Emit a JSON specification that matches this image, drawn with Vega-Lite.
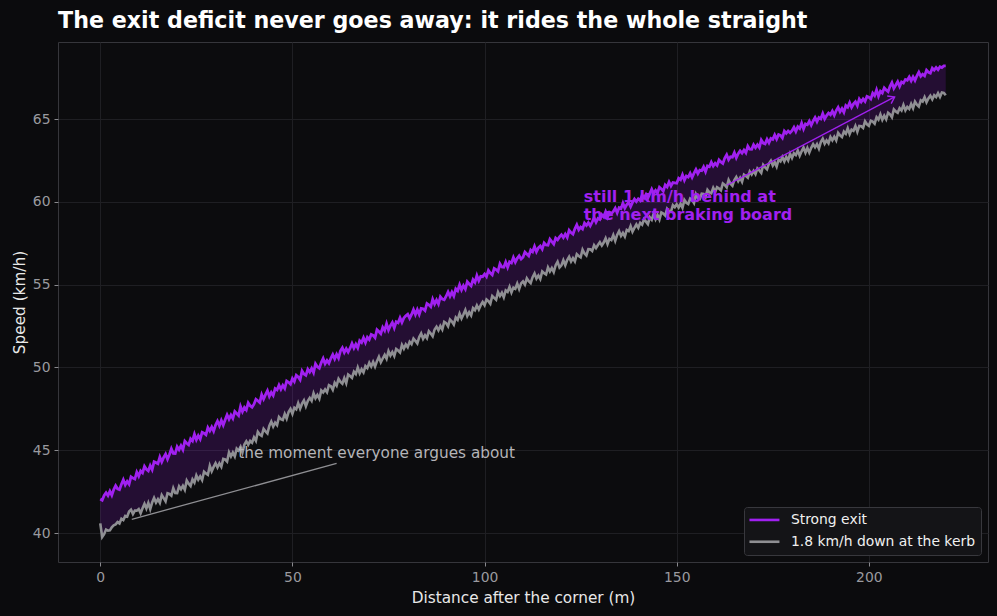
{
  "$schema": "https://vega.github.io/schema/vega-lite/v6.json",
  "autosize": {"type": "none"},
  "padding": {"left": 58, "top": 42, "right": 9, "bottom": 54},
  "width": 930,
  "height": 520,
  "background": "#0b0b0d",
  "title": {
    "text": "The exit deficit never goes away: it rides the whole straight",
    "anchor": "start",
    "frame": "group",
    "font": "DejaVu Sans",
    "fontSize": 22.2,
    "fontWeight": "bold",
    "color": "#ffffff",
    "offset": 10
  },
  "config": {
    "view": {"stroke": "#36363b", "strokeWidth": 1, "fill": "#0c0c0e"},
    "axis": {
      "domain": false,
      "grid": true,
      "gridColor": "#1f1f23",
      "gridWidth": 1,
      "tickColor": "#8a8a8f",
      "tickSize": 4,
      "labelColor": "#9a9a9f",
      "labelFont": "DejaVu Sans",
      "labelFontSize": 13.9,
      "labelPadding": 4,
      "titleColor": "#e8e8e8",
      "titleFont": "DejaVu Sans",
      "titleFontSize": 15.3,
      "titleFontWeight": "normal"
    },
    "legend": {
      "orient": "bottom-right",
      "offset": 7,
      "fillColor": "#141417",
      "strokeColor": "#38383d",
      "cornerRadius": 3,
      "padding": 6,
      "labelColor": "#f0f0f0",
      "labelFont": "DejaVu Sans",
      "labelFontSize": 13.9,
      "labelLimit": 0,
      "symbolType": "M-3,0L3,0",
      "symbolSize": 100,
      "symbolStrokeWidth": 2.6,
      "symbolOffset": 7.5,
      "labelOffset": 19.5,
      "rowPadding": 6.8
    }
  },
  "datasets": {
    "laps": [
      {"d": 0, "s": 42.05, "w": 40.58}, {"d": 0.5, "s": 41.98, "w": 39.76}, {"d": 1, "s": 42.27, "w": 39.93}, {"d": 1.5, "s": 42.43, "w": 40.21},
      {"d": 2, "s": 42.26, "w": 40.14}, {"d": 2.5, "s": 42.53, "w": 40.16}, {"d": 3, "s": 42.28, "w": 40.34}, {"d": 3.5, "s": 42.62, "w": 40.47},
      {"d": 4, "s": 42.86, "w": 40.52}, {"d": 4.5, "s": 42.67, "w": 40.66}, {"d": 5, "s": 42.62, "w": 40.58}, {"d": 5.5, "s": 42.94, "w": 40.86},
      {"d": 6, "s": 43.22, "w": 40.78}, {"d": 6.5, "s": 42.91, "w": 41.03}, {"d": 7, "s": 43.12, "w": 40.99}, {"d": 7.5, "s": 42.95, "w": 41.30},
      {"d": 8, "s": 43.40, "w": 41.41}, {"d": 8.5, "s": 43.32, "w": 41.15}, {"d": 9, "s": 43.26, "w": 41.36}, {"d": 9.5, "s": 43.67, "w": 41.35},
      {"d": 10, "s": 43.43, "w": 41.45}, {"d": 10.5, "s": 43.75, "w": 41.19}, {"d": 11, "s": 43.63, "w": 41.50}, {"d": 11.5, "s": 44.03, "w": 41.76},
      {"d": 12, "s": 43.85, "w": 41.48}, {"d": 12.5, "s": 43.75, "w": 41.82}, {"d": 13, "s": 44.07, "w": 41.44}, {"d": 13.5, "s": 43.83, "w": 41.84},
      {"d": 14, "s": 44.30, "w": 42.12}, {"d": 14.5, "s": 44.25, "w": 41.84}, {"d": 15, "s": 44.19, "w": 42.04}, {"d": 15.5, "s": 44.59, "w": 41.82},
      {"d": 16, "s": 44.30, "w": 42.29}, {"d": 16.5, "s": 44.57, "w": 42.11}, {"d": 17, "s": 44.77, "w": 41.91}, {"d": 17.5, "s": 44.46, "w": 42.40},
      {"d": 18, "s": 44.74, "w": 42.36}, {"d": 18.5, "s": 45.09, "w": 42.26}, {"d": 19, "s": 44.81, "w": 42.71}, {"d": 19.5, "s": 44.80, "w": 42.42},
      {"d": 20, "s": 45.21, "w": 42.41}, {"d": 20.5, "s": 45.03, "w": 42.82}, {"d": 21, "s": 45.27, "w": 42.64}, {"d": 21.5, "s": 45.04, "w": 42.85},
      {"d": 22, "s": 45.55, "w": 42.61}, {"d": 22.5, "s": 45.42, "w": 43.17}, {"d": 23, "s": 45.32, "w": 42.98}, {"d": 23.5, "s": 45.69, "w": 42.84},
      {"d": 24, "s": 45.56, "w": 43.24}, {"d": 24.5, "s": 45.97, "w": 43.05}, {"d": 25, "s": 45.63, "w": 43.48}, {"d": 25.5, "s": 45.88, "w": 43.22},
      {"d": 26, "s": 45.67, "w": 43.42}, {"d": 26.5, "s": 46.09, "w": 43.20}, {"d": 27, "s": 46.03, "w": 43.70}, {"d": 27.5, "s": 45.93, "w": 43.60},
      {"d": 28, "s": 46.37, "w": 43.52}, {"d": 28.5, "s": 46.17, "w": 44.06}, {"d": 29, "s": 46.40, "w": 43.73}, {"d": 29.5, "s": 46.15, "w": 43.99},
      {"d": 30, "s": 46.52, "w": 44.21}, {"d": 30.5, "s": 46.76, "w": 43.96}, {"d": 31, "s": 46.48, "w": 44.21}, {"d": 31.5, "s": 46.80, "w": 44.00},
      {"d": 32, "s": 46.52, "w": 44.48}, {"d": 32.5, "s": 46.84, "w": 44.44}, {"d": 33, "s": 47.14, "w": 44.32}, {"d": 33.5, "s": 46.88, "w": 44.87},
      {"d": 34, "s": 47.12, "w": 44.62}, {"d": 34.5, "s": 46.92, "w": 44.86}, {"d": 35, "s": 47.34, "w": 44.62}, {"d": 35.5, "s": 47.22, "w": 45.10},
      {"d": 36, "s": 47.09, "w": 44.98}, {"d": 36.5, "s": 47.64, "w": 45.21}, {"d": 37, "s": 47.33, "w": 44.87}, {"d": 37.5, "s": 47.58, "w": 45.34},
      {"d": 38, "s": 47.43, "w": 45.54}, {"d": 38.5, "s": 47.86, "w": 45.33}, {"d": 39, "s": 47.69, "w": 45.56}, {"d": 39.5, "s": 47.60, "w": 45.45},
      {"d": 40, "s": 47.78, "w": 45.78}, {"d": 40.5, "s": 48.08, "w": 45.57}, {"d": 41, "s": 47.99, "w": 46.11}, {"d": 41.5, "s": 47.88, "w": 45.95},
      {"d": 42, "s": 48.36, "w": 45.87}, {"d": 42.5, "s": 48.09, "w": 46.29}, {"d": 43, "s": 48.36, "w": 46.14}, {"d": 43.5, "s": 48.60, "w": 46.02},
      {"d": 44, "s": 48.25, "w": 46.48}, {"d": 44.5, "s": 48.49, "w": 46.73}, {"d": 45, "s": 48.31, "w": 46.43}, {"d": 45.5, "s": 48.72, "w": 46.66},
      {"d": 46, "s": 48.64, "w": 46.52}, {"d": 46.5, "s": 48.93, "w": 47.01}, {"d": 47, "s": 48.68, "w": 46.88}, {"d": 47.5, "s": 48.92, "w": 46.83},
      {"d": 48, "s": 48.73, "w": 47.19}, {"d": 48.5, "s": 49.18, "w": 46.91}, {"d": 49, "s": 49.10, "w": 47.30}, {"d": 49.5, "s": 48.99, "w": 47.49},
      {"d": 50, "s": 49.33, "w": 47.20}, {"d": 50.5, "s": 49.15, "w": 47.57}, {"d": 51, "s": 49.53, "w": 47.47}, {"d": 51.5, "s": 49.43, "w": 47.84},
      {"d": 52, "s": 49.26, "w": 47.51}, {"d": 52.5, "s": 49.79, "w": 47.81}, {"d": 53, "s": 49.60, "w": 48.01}, {"d": 53.5, "s": 49.52, "w": 47.65},
      {"d": 54, "s": 49.89, "w": 47.97}, {"d": 54.5, "s": 49.72, "w": 48.16}, {"d": 55, "s": 49.94, "w": 47.98}, {"d": 55.5, "s": 49.69, "w": 48.44},
      {"d": 56, "s": 50.22, "w": 48.14}, {"d": 56.5, "s": 50.04, "w": 48.34}, {"d": 57, "s": 49.95, "w": 48.11}, {"d": 57.5, "s": 50.29, "w": 48.61},
      {"d": 58, "s": 50.54, "w": 48.49}, {"d": 58.5, "s": 50.22, "w": 48.67}, {"d": 59, "s": 50.42, "w": 48.50}, {"d": 59.5, "s": 50.25, "w": 48.93},
      {"d": 60, "s": 50.55, "w": 48.87}, {"d": 60.5, "s": 50.78, "w": 48.65}, {"d": 61, "s": 50.51, "w": 49.07}, {"d": 61.5, "s": 50.79, "w": 48.90},
      {"d": 62, "s": 50.56, "w": 49.31}, {"d": 62.5, "s": 51.00, "w": 49.13}, {"d": 63, "s": 51.18, "w": 49.02}, {"d": 63.5, "s": 50.90, "w": 49.36},
      {"d": 64, "s": 51.13, "w": 49.05}, {"d": 64.5, "s": 50.93, "w": 49.57}, {"d": 65, "s": 51.16, "w": 49.48}, {"d": 65.5, "s": 51.45, "w": 49.37},
      {"d": 66, "s": 51.17, "w": 49.74}, {"d": 66.5, "s": 51.41, "w": 49.60}, {"d": 67, "s": 51.18, "w": 49.99}, {"d": 67.5, "s": 51.61, "w": 49.65},
      {"d": 68, "s": 51.50, "w": 49.89}, {"d": 68.5, "s": 51.79, "w": 49.70}, {"d": 69, "s": 51.50, "w": 50.08}, {"d": 69.5, "s": 51.82, "w": 49.96},
      {"d": 70, "s": 51.68, "w": 50.28}, {"d": 70.5, "s": 51.99, "w": 50.06}, {"d": 71, "s": 51.93, "w": 50.33}, {"d": 71.5, "s": 51.79, "w": 50.05},
      {"d": 72, "s": 52.28, "w": 50.38}, {"d": 72.5, "s": 52.17, "w": 50.64}, {"d": 73, "s": 52.04, "w": 50.31}, {"d": 73.5, "s": 52.42, "w": 50.54},
      {"d": 74, "s": 52.23, "w": 50.76}, {"d": 74.5, "s": 52.64, "w": 50.52}, {"d": 75, "s": 52.26, "w": 50.99}, {"d": 75.5, "s": 52.52, "w": 50.72},
      {"d": 76, "s": 52.71, "w": 50.93}, {"d": 76.5, "s": 52.39, "w": 50.69}, {"d": 77, "s": 52.76, "w": 51.11}, {"d": 77.5, "s": 52.70, "w": 51.02},
      {"d": 78, "s": 53.00, "w": 50.90}, {"d": 78.5, "s": 52.72, "w": 51.36}, {"d": 79, "s": 52.99, "w": 51.13}, {"d": 79.5, "s": 53.12, "w": 51.39},
      {"d": 80, "s": 53.21, "w": 51.22}, {"d": 80.5, "s": 52.97, "w": 51.55}, {"d": 81, "s": 53.20, "w": 51.41}, {"d": 81.5, "s": 53.49, "w": 51.74},
      {"d": 82, "s": 53.19, "w": 51.60}, {"d": 82.5, "s": 53.49, "w": 51.45}, {"d": 83, "s": 53.20, "w": 51.83}, {"d": 83.5, "s": 53.56, "w": 52.05},
      {"d": 84, "s": 53.54, "w": 51.73}, {"d": 84.5, "s": 53.43, "w": 51.94}, {"d": 85, "s": 53.86, "w": 51.77}, {"d": 85.5, "s": 53.78, "w": 52.19},
      {"d": 86, "s": 53.66, "w": 52.05}, {"d": 86.5, "s": 54.12, "w": 51.88}, {"d": 87, "s": 53.83, "w": 52.29}, {"d": 87.5, "s": 54.07, "w": 52.46},
      {"d": 88, "s": 53.83, "w": 52.24}, {"d": 88.5, "s": 54.27, "w": 52.50}, {"d": 89, "s": 54.13, "w": 52.29}, {"d": 89.5, "s": 54.09, "w": 52.75},
      {"d": 90, "s": 54.30, "w": 52.67}, {"d": 90.5, "s": 54.56, "w": 52.48}, {"d": 91, "s": 54.29, "w": 52.89}, {"d": 91.5, "s": 54.55, "w": 52.77},
      {"d": 92, "s": 54.31, "w": 52.59}, {"d": 92.5, "s": 54.75, "w": 53.02}, {"d": 93, "s": 54.63, "w": 52.88}, {"d": 93.5, "s": 54.99, "w": 53.25},
      {"d": 94, "s": 54.68, "w": 52.95}, {"d": 94.5, "s": 54.94, "w": 53.19}, {"d": 95, "s": 54.73, "w": 53.47}, {"d": 95.5, "s": 55.18, "w": 53.10},
      {"d": 96, "s": 55.04, "w": 53.33}, {"d": 96.5, "s": 54.92, "w": 53.14}, {"d": 97, "s": 55.30, "w": 53.58}, {"d": 97.5, "s": 55.14, "w": 53.46},
      {"d": 98, "s": 55.55, "w": 53.74}, {"d": 98.5, "s": 55.24, "w": 53.50}, {"d": 99, "s": 55.50, "w": 53.76}, {"d": 99.5, "s": 55.48, "w": 53.95},
      {"d": 100, "s": 55.64, "w": 53.76}, {"d": 100.5, "s": 55.48, "w": 54.10}, {"d": 101, "s": 55.86, "w": 54.00}, {"d": 101.5, "s": 55.70, "w": 53.84},
      {"d": 102, "s": 55.59, "w": 54.31}, {"d": 102.5, "s": 55.98, "w": 54.20}, {"d": 103, "s": 55.91, "w": 54.09}, {"d": 103.5, "s": 55.80, "w": 54.55},
      {"d": 104, "s": 56.26, "w": 54.31}, {"d": 104.5, "s": 56.07, "w": 54.51}, {"d": 105, "s": 56.05, "w": 54.23}, {"d": 105.5, "s": 56.36, "w": 54.65},
      {"d": 106, "s": 56.04, "w": 54.56}, {"d": 106.5, "s": 56.38, "w": 54.87}, {"d": 107, "s": 56.31, "w": 54.53}, {"d": 107.5, "s": 56.64, "w": 54.82},
      {"d": 108, "s": 56.36, "w": 54.75}, {"d": 108.5, "s": 56.59, "w": 55.06}, {"d": 109, "s": 56.74, "w": 54.73}, {"d": 109.5, "s": 56.55, "w": 55.07},
      {"d": 110, "s": 56.66, "w": 55.19}, {"d": 110.5, "s": 56.97, "w": 55.00}, {"d": 111, "s": 56.85, "w": 55.38}, {"d": 111.5, "s": 56.73, "w": 55.21},
      {"d": 112, "s": 57.09, "w": 55.09}, {"d": 112.5, "s": 56.98, "w": 55.45}, {"d": 113, "s": 57.31, "w": 55.67}, {"d": 113.5, "s": 56.99, "w": 55.36},
      {"d": 114, "s": 57.22, "w": 55.55}, {"d": 114.5, "s": 57.33, "w": 55.34}, {"d": 115, "s": 57.14, "w": 55.80}, {"d": 115.5, "s": 57.52, "w": 55.69},
      {"d": 116, "s": 57.40, "w": 55.61}, {"d": 116.5, "s": 57.38, "w": 56.04}, {"d": 117, "s": 57.74, "w": 55.80}, {"d": 117.5, "s": 57.59, "w": 56.00},
      {"d": 118, "s": 57.45, "w": 55.76}, {"d": 118.5, "s": 57.81, "w": 56.17}, {"d": 119, "s": 57.70, "w": 56.38}, {"d": 119.5, "s": 57.88, "w": 56.03},
      {"d": 120, "s": 58.01, "w": 56.16}, {"d": 120.5, "s": 57.84, "w": 56.47}, {"d": 121, "s": 58.05, "w": 56.17}, {"d": 121.5, "s": 57.85, "w": 56.48},
      {"d": 122, "s": 58.28, "w": 56.68}, {"d": 122.5, "s": 58.14, "w": 56.39}, {"d": 123, "s": 58.05, "w": 56.60}, {"d": 123.5, "s": 58.37, "w": 56.40},
      {"d": 124, "s": 58.61, "w": 56.84}, {"d": 124.5, "s": 58.31, "w": 56.73}, {"d": 125, "s": 58.47, "w": 56.65}, {"d": 125.5, "s": 58.36, "w": 57.11},
      {"d": 126, "s": 58.71, "w": 56.88}, {"d": 126.5, "s": 58.57, "w": 56.76}, {"d": 127, "s": 58.74, "w": 57.14}, {"d": 127.5, "s": 58.55, "w": 57.13},
      {"d": 128, "s": 58.78, "w": 57.03}, {"d": 128.5, "s": 59.03, "w": 57.38}, {"d": 129, "s": 58.77, "w": 57.20}, {"d": 129.5, "s": 59.00, "w": 57.39},
      {"d": 130, "s": 58.93, "w": 57.56}, {"d": 130.5, "s": 59.22, "w": 57.36}, {"d": 131, "s": 59.09, "w": 57.54}, {"d": 131.5, "s": 59.40, "w": 57.80},
      {"d": 132, "s": 59.08, "w": 57.45}, {"d": 132.5, "s": 59.36, "w": 57.76}, {"d": 133, "s": 59.29, "w": 57.69}, {"d": 133.5, "s": 59.42, "w": 57.99},
      {"d": 134, "s": 59.62, "w": 57.64}, {"d": 134.5, "s": 59.33, "w": 58.00}, {"d": 135, "s": 59.65, "w": 58.23}, {"d": 135.5, "s": 59.59, "w": 57.94},
      {"d": 136, "s": 59.92, "w": 58.12}, {"d": 136.5, "s": 59.62, "w": 57.90}, {"d": 137, "s": 59.83, "w": 58.30}, {"d": 137.5, "s": 59.96, "w": 58.23},
      {"d": 138, "s": 59.71, "w": 58.54}, {"d": 138.5, "s": 59.97, "w": 58.20}, {"d": 139, "s": 60.17, "w": 58.42}, {"d": 139.5, "s": 60.01, "w": 58.63},
      {"d": 140, "s": 60.18, "w": 58.43}, {"d": 140.5, "s": 60.08, "w": 58.73}, {"d": 141, "s": 60.41, "w": 58.62}, {"d": 141.5, "s": 60.24, "w": 58.94},
      {"d": 142, "s": 60.45, "w": 58.80}, {"d": 142.5, "s": 60.23, "w": 58.65}, {"d": 143, "s": 60.49, "w": 59.06}, {"d": 143.5, "s": 60.76, "w": 58.91},
      {"d": 144, "s": 60.50, "w": 59.27}, {"d": 144.5, "s": 60.69, "w": 58.94}, {"d": 145, "s": 60.55, "w": 59.20}, {"d": 145.5, "s": 60.88, "w": 58.93},
      {"d": 146, "s": 60.78, "w": 59.36}, {"d": 146.5, "s": 60.64, "w": 59.29}, {"d": 147, "s": 61.02, "w": 59.17}, {"d": 147.5, "s": 60.90, "w": 59.57},
      {"d": 148, "s": 61.20, "w": 59.42}, {"d": 148.5, "s": 60.96, "w": 59.41}, {"d": 149, "s": 61.16, "w": 59.79}, {"d": 149.5, "s": 61.14, "w": 59.67},
      {"d": 150, "s": 61.12, "w": 59.85}, {"d": 150.5, "s": 61.42, "w": 59.65}, {"d": 151, "s": 61.33, "w": 59.88}, {"d": 151.5, "s": 61.63, "w": 59.63},
      {"d": 152, "s": 61.30, "w": 60.11}, {"d": 152.5, "s": 61.56, "w": 59.94}, {"d": 153, "s": 61.49, "w": 59.87}, {"d": 153.5, "s": 61.72, "w": 60.20},
      {"d": 154, "s": 61.47, "w": 60.12}, {"d": 154.5, "s": 61.73, "w": 59.93}, {"d": 155, "s": 61.95, "w": 60.46}, {"d": 155.5, "s": 61.70, "w": 60.23},
      {"d": 156, "s": 61.91, "w": 60.17}, {"d": 156.5, "s": 61.88, "w": 60.49}, {"d": 157, "s": 62.11, "w": 60.47}, {"d": 157.5, "s": 61.82, "w": 60.30},
      {"d": 158, "s": 62.17, "w": 60.72}, {"d": 158.5, "s": 62.12, "w": 60.57}, {"d": 159, "s": 62.40, "w": 60.52}, {"d": 159.5, "s": 62.16, "w": 60.84},
      {"d": 160, "s": 62.33, "w": 60.60}, {"d": 160.5, "s": 62.20, "w": 60.88}, {"d": 161, "s": 62.53, "w": 60.80}, {"d": 161.5, "s": 62.41, "w": 60.69},
      {"d": 162, "s": 62.32, "w": 61.11}, {"d": 162.5, "s": 62.64, "w": 61.02}, {"d": 163, "s": 62.84, "w": 60.87}, {"d": 163.5, "s": 62.54, "w": 61.32},
      {"d": 164, "s": 62.72, "w": 61.09}, {"d": 164.5, "s": 62.70, "w": 60.97}, {"d": 165, "s": 62.97, "w": 61.32}, {"d": 165.5, "s": 62.65, "w": 61.50},
      {"d": 166, "s": 62.90, "w": 61.25}, {"d": 166.5, "s": 63.08, "w": 61.45}, {"d": 167, "s": 62.94, "w": 61.21}, {"d": 167.5, "s": 63.13, "w": 61.64},
      {"d": 168, "s": 62.96, "w": 61.56}, {"d": 168.5, "s": 63.36, "w": 61.46}, {"d": 169, "s": 63.18, "w": 61.83}, {"d": 169.5, "s": 63.17, "w": 61.65},
      {"d": 170, "s": 63.45, "w": 61.87}, {"d": 170.5, "s": 63.27, "w": 61.67}, {"d": 171, "s": 63.45, "w": 62.02}, {"d": 171.5, "s": 63.28, "w": 61.90},
      {"d": 172, "s": 63.73, "w": 61.75}, {"d": 172.5, "s": 63.55, "w": 62.23}, {"d": 173, "s": 63.50, "w": 62.08}, {"d": 173.5, "s": 63.78, "w": 61.96},
      {"d": 174, "s": 63.56, "w": 62.31}, {"d": 174.5, "s": 63.83, "w": 62.48}, {"d": 175, "s": 63.77, "w": 62.19}, {"d": 175.5, "s": 64.04, "w": 62.39},
      {"d": 176, "s": 63.79, "w": 62.12}, {"d": 176.5, "s": 64.06, "w": 62.54}, {"d": 177, "s": 64.01, "w": 62.44}, {"d": 177.5, "s": 63.86, "w": 62.71},
      {"d": 178, "s": 64.27, "w": 62.44}, {"d": 178.5, "s": 64.14, "w": 62.71}, {"d": 179, "s": 64.28, "w": 62.50}, {"d": 179.5, "s": 64.17, "w": 62.90},
      {"d": 180, "s": 64.30, "w": 62.65}, {"d": 180.5, "s": 64.50, "w": 62.93}, {"d": 181, "s": 64.25, "w": 62.82}, {"d": 181.5, "s": 64.53, "w": 63.10},
      {"d": 182, "s": 64.42, "w": 62.78}, {"d": 182.5, "s": 64.75, "w": 63.05}, {"d": 183, "s": 64.40, "w": 63.28}, {"d": 183.5, "s": 64.70, "w": 62.97},
      {"d": 184, "s": 64.65, "w": 63.25}, {"d": 184.5, "s": 64.87, "w": 62.97}, {"d": 185, "s": 64.63, "w": 63.26}, {"d": 185.5, "s": 64.88, "w": 63.48},
      {"d": 186, "s": 65.09, "w": 63.29}, {"d": 186.5, "s": 64.84, "w": 63.48}, {"d": 187, "s": 65.09, "w": 63.21}, {"d": 187.5, "s": 65.01, "w": 63.61},
      {"d": 188, "s": 65.33, "w": 63.81}, {"d": 188.5, "s": 65.01, "w": 63.51}, {"d": 189, "s": 65.21, "w": 63.71}, {"d": 189.5, "s": 65.36, "w": 63.54},
      {"d": 190, "s": 65.26, "w": 63.91}, {"d": 190.5, "s": 65.48, "w": 63.71}, {"d": 191, "s": 65.23, "w": 63.93}, {"d": 191.5, "s": 65.51, "w": 63.71},
      {"d": 192, "s": 65.71, "w": 64.16}, {"d": 192.5, "s": 65.44, "w": 64.01}, {"d": 193, "s": 65.63, "w": 63.91}, {"d": 193.5, "s": 65.41, "w": 64.24},
      {"d": 194, "s": 65.81, "w": 64.11}, {"d": 194.5, "s": 65.71, "w": 64.44}, {"d": 195, "s": 65.99, "w": 64.09}, {"d": 195.5, "s": 65.71, "w": 64.36},
      {"d": 196, "s": 65.91, "w": 64.29}, {"d": 196.5, "s": 66.04, "w": 64.58}, {"d": 197, "s": 65.81, "w": 64.23}, {"d": 197.5, "s": 66.21, "w": 64.58},
      {"d": 198, "s": 66.03, "w": 64.56}, {"d": 198.5, "s": 66.21, "w": 64.46}, {"d": 199, "s": 66.06, "w": 64.86}, {"d": 199.5, "s": 66.36, "w": 64.68},
      {"d": 200, "s": 66.31, "w": 64.59}, {"d": 200.5, "s": 66.21, "w": 64.89}, {"d": 201, "s": 66.56, "w": 64.84}, {"d": 201.5, "s": 66.41, "w": 64.72},
      {"d": 202, "s": 66.76, "w": 65.11}, {"d": 202.5, "s": 66.38, "w": 64.96}, {"d": 203, "s": 66.68, "w": 65.28}, {"d": 203.5, "s": 66.57, "w": 64.95},
      {"d": 204, "s": 66.88, "w": 65.20}, {"d": 204.5, "s": 66.75, "w": 64.98}, {"d": 205, "s": 66.65, "w": 65.38}, {"d": 205.5, "s": 66.97, "w": 65.28},
      {"d": 206, "s": 67.20, "w": 65.10}, {"d": 206.5, "s": 66.85, "w": 65.58}, {"d": 207, "s": 67.05, "w": 65.46}, {"d": 207.5, "s": 67.25, "w": 65.38},
      {"d": 208, "s": 66.97, "w": 65.65}, {"d": 208.5, "s": 67.24, "w": 65.52}, {"d": 209, "s": 67.17, "w": 65.85}, {"d": 209.5, "s": 67.39, "w": 65.52},
      {"d": 210, "s": 67.34, "w": 65.73}, {"d": 210.5, "s": 67.54, "w": 65.61}, {"d": 211, "s": 67.31, "w": 65.91}, {"d": 211.5, "s": 67.55, "w": 65.65},
      {"d": 212, "s": 67.33, "w": 66.05}, {"d": 212.5, "s": 67.61, "w": 65.87}, {"d": 213, "s": 67.83, "w": 65.75}, {"d": 213.5, "s": 67.58, "w": 66.13},
      {"d": 214, "s": 67.70, "w": 66.05}, {"d": 214.5, "s": 67.60, "w": 66.32}, {"d": 215, "s": 67.95, "w": 66.01}, {"d": 215.5, "s": 67.82, "w": 66.24},
      {"d": 216, "s": 67.77, "w": 66.41}, {"d": 216.5, "s": 68.07, "w": 66.19}, {"d": 217, "s": 67.95, "w": 66.44}, {"d": 217.5, "s": 68.11, "w": 66.33},
      {"d": 218, "s": 67.98, "w": 66.56}, {"d": 218.5, "s": 68.16, "w": 66.33}, {"d": 219, "s": 68.11, "w": 66.60}, {"d": 219.5, "s": 68.21, "w": 66.58},
      {"d": 220, "s": 68.21, "w": 66.43}
    ],
    "grayNote": [{"d": 61.5, "s": 44.2, "d2": 8.2, "s2": 40.83, "label": "the moment everyone argues about", "td": 35.9, "ts": 44.53}],
    "purpleNote": [{"d": 163.0, "s": 61.0, "d2": 206.7, "s2": 66.33, "label": "still 1 km/h behind at\nthe next braking board", "td": 125.8, "ts": 60.0}]
  },
  "layer": [
    {
      "data": {"name": "laps"},
      "mark": {"type": "area", "color": "#a020f0", "opacity": 0.17},
      "encoding": {
        "x": {"field": "d", "type": "quantitative", "scale": {"domain": [-11, 231], "nice": false, "zero": false}, "axis": {"values": [0, 50, 100, 150, 200], "titlePadding": 7}, "title": "Distance after the corner (m)"},
        "y": {"field": "s", "type": "quantitative", "scale": {"domain": [38.25, 69.65], "nice": false, "zero": false}, "axis": {"values": [40, 45, 50, 55, 60, 65], "titlePadding": 5}, "title": "Speed (km/h)"},
        "y2": {"field": "w"}
      }
    },
    {
      "data": {"name": "laps"},
      "mark": {"type": "line", "strokeWidth": 2.6, "interpolate": "linear"},
      "encoding": {
        "x": {"field": "d", "type": "quantitative", "title": "Distance after the corner (m)"},
        "y": {"field": "w", "type": "quantitative", "title": "Speed (km/h)"},
        "color": {"datum": "1.8 km/h down at the kerb", "type": "nominal", "scale": {"domain": ["Strong exit", "1.8 km/h down at the kerb"], "range": ["#a020f0", "#8f8f93"]}, "legend": {"title": null}}
      }
    },
    {
      "data": {"name": "laps"},
      "mark": {"type": "line", "strokeWidth": 2.8, "interpolate": "linear"},
      "encoding": {
        "x": {"field": "d", "type": "quantitative", "title": "Distance after the corner (m)"},
        "y": {"field": "s", "type": "quantitative", "title": "Speed (km/h)"},
        "color": {"datum": "Strong exit", "type": "nominal"}
      }
    },
    {
      "data": {"name": "grayNote"},
      "mark": {"type": "rule", "color": "#8f8f93", "strokeWidth": 1.3},
      "encoding": {
        "x": {"field": "d", "type": "quantitative", "title": "Distance after the corner (m)"},
        "y": {"field": "s", "type": "quantitative", "title": "Speed (km/h)"},
        "x2": {"field": "d2"},
        "y2": {"field": "s2"}
      }
    },
    {
      "data": {"name": "grayNote"},
      "mark": {"type": "text", "color": "#b4b4b8", "font": "DejaVu Sans", "fontSize": 15.3, "align": "left", "baseline": "alphabetic"},
      "encoding": {
        "x": {"field": "td", "type": "quantitative", "title": "Distance after the corner (m)"},
        "y": {"field": "ts", "type": "quantitative", "title": "Speed (km/h)"},
        "text": {"field": "label"}
      }
    },
    {
      "data": {"name": "purpleNote"},
      "mark": {"type": "rule", "color": "#a020f0", "strokeWidth": 1.4},
      "encoding": {
        "x": {"field": "d", "type": "quantitative", "title": "Distance after the corner (m)"},
        "y": {"field": "s", "type": "quantitative", "title": "Speed (km/h)"},
        "x2": {"field": "d2"},
        "y2": {"field": "s2"}
      }
    },
    {
      "data": {"name": "purpleNote"},
      "mark": {"type": "point", "shape": "M-1,-0.7L0,0L-1,0.7", "filled": false, "color": "#a020f0", "strokeWidth": 1.4, "size": 150, "angle": -27.6, "opacity": 1},
      "encoding": {
        "x": {"field": "d2", "type": "quantitative", "title": "Distance after the corner (m)"},
        "y": {"field": "s2", "type": "quantitative", "title": "Speed (km/h)"}
      }
    },
    {
      "data": {"name": "purpleNote"},
      "mark": {"type": "text", "color": "#a020f0", "font": "DejaVu Sans", "fontSize": 16, "fontWeight": "bold", "align": "left", "baseline": "alphabetic", "lineBreak": "\n", "lineHeight": 18.3},
      "encoding": {
        "x": {"field": "td", "type": "quantitative", "title": "Distance after the corner (m)"},
        "y": {"field": "ts", "type": "quantitative", "title": "Speed (km/h)"},
        "text": {"field": "label"}
      }
    }
  ]
}
